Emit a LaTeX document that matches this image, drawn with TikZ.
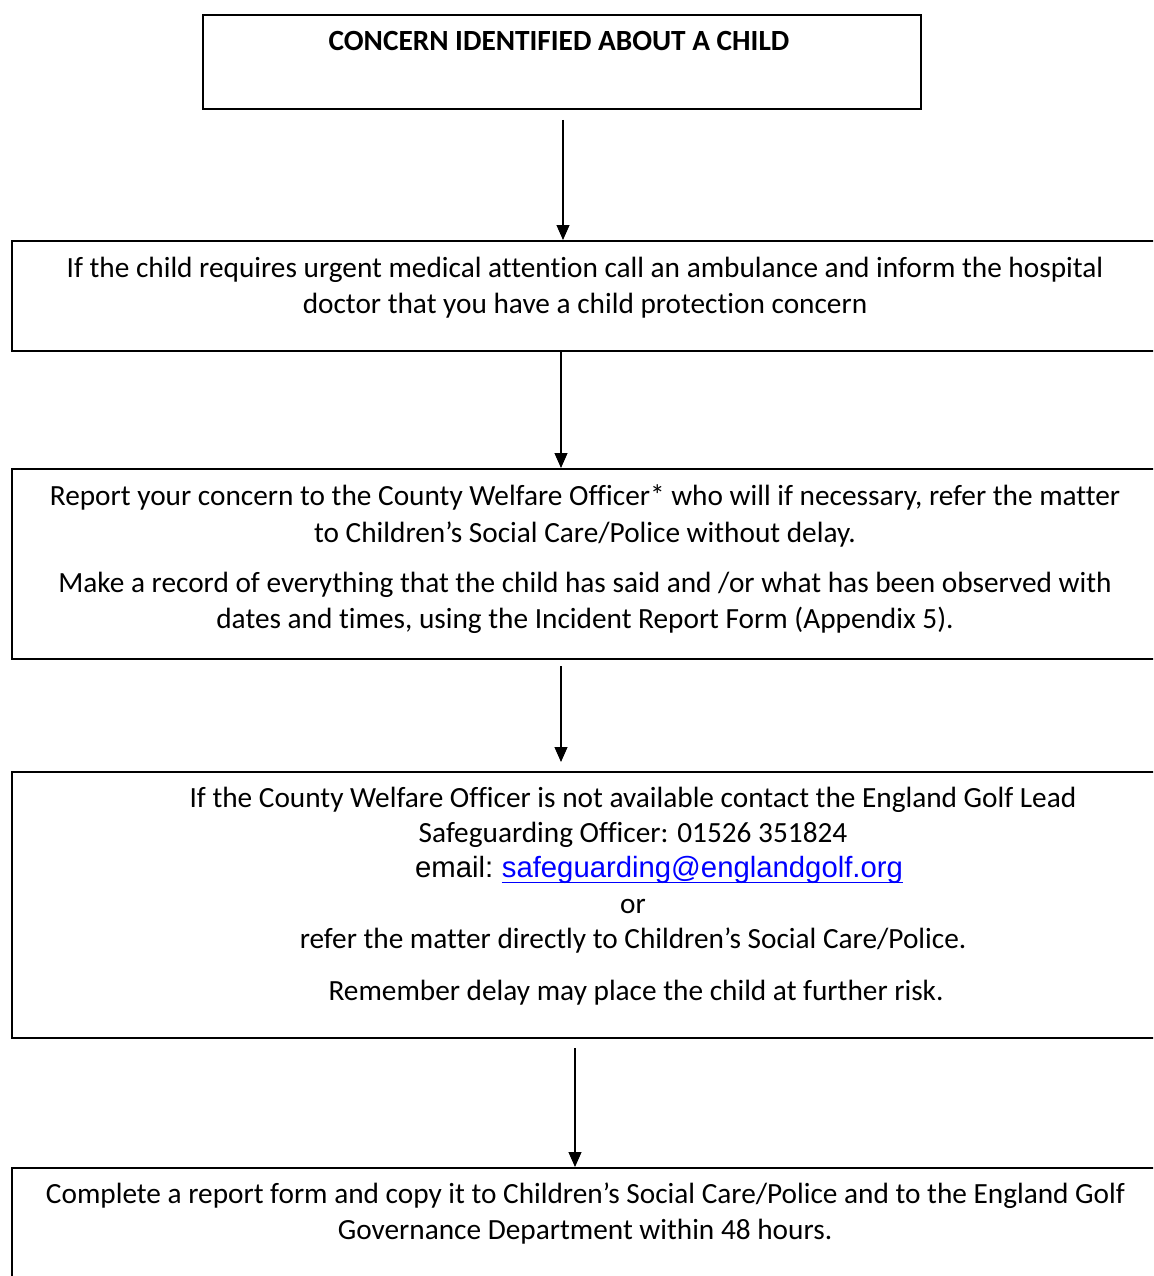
\documentclass[tikz,border=0pt]{standalone}
\usepackage{fontspec}
\setmainfont{Carlito}[Ligatures=NoCommon]
\newfontfamily\arialfont{Liberation Sans}
\usetikzlibrary{arrows.meta}
\definecolor{linkblue}{RGB}{0,0,255}
\tikzset{
  box/.style={draw=black, line width=2.2pt, anchor=north west, inner sep=0pt, fill=none},
  txt/.style={anchor=base, inner sep=0pt, font=\fontsize{29.3}{36}\selectfont},
  flow/.style={line width=1.1pt, -{Triangle[length=15pt,width=13pt]}}
}
\begin{document}
\begin{tikzpicture}[x=1pt,y=-1pt]
\clip (0,0) rectangle (1153,1276);
\fill[white] (0,0) rectangle (1153,1276);
% boxes
\node[box, minimum width=718pt, minimum height=94pt] (b1) at (202,14) {};
\node[box, minimum width=1149pt, minimum height=110pt] (b2) at (11,240) {};
\node[box, minimum width=1149pt, minimum height=190pt] (b3) at (11,468) {};
\node[box, minimum width=1149pt, minimum height=266pt] (b4) at (11,771) {};
\node[box, minimum width=1149pt, minimum height=130pt] (b5) at (11,1167) {};
% texts
\node[txt, font=\fontsize{29.3}{36}\selectfont\bfseries] (t1) at (559,51) {CONCERN IDENTIFIED ABOUT A CHILD};
\node[txt] (t2a) at (585,277) {If the child requires urgent medical attention call an ambulance and inform the hospital};
\node[txt] (t2b) at (585,313) {doctor that you have a child protection concern};
\node[txt] (t3a) at (585,505) {Report your concern to the County Welfare Officer* who will if necessary, refer the matter};
\node[txt] (t3b) at (585,542) {to Children’s Social Care/Police without delay.};
\node[txt] (t3c) at (585,592) {Make a record of everything that the child has said and /or what has been observed with};
\node[txt] (t3d) at (585,628) {dates and times, using the Incident Report Form (Appendix 5).};
\node[txt] (t4a) at (633,807) {If the County Welfare Officer is not available contact the England Golf Lead};
\node[txt] (t4b) at (633,842) {Safeguarding Officer: 01526 351824};
\node[txt, anchor=base west, font=\fontsize{29.3}{36}\arialfont] (t4c) at (415,877) {email:};
\node[txt, anchor=base west, font=\fontsize{29.3}{36}\arialfont, text=linkblue, xshift=8.1pt] (link) at (t4c.base east) {safeguarding@englandgolf.org};
\draw[linkblue, line width=1.6pt] ([yshift=-5.5pt]link.base west) -- ([yshift=-5.5pt]link.base east);
\node[txt] (t4d) at (633,913) {or};
\node[txt] (t4e) at (633,948) {refer the matter directly to Children’s Social Care/Police.};
\node[txt] (t4f) at (636,1000) {Remember delay may place the child at further risk.};
\node[txt] (t5a) at (585.5,1203) {Complete a report form and copy it to Children’s Social Care/Police and to the England Golf};
\node[txt] (t5b) at (585,1239) {Governance Department within 48 hours.};
% connector coordinates
\coordinate (s1) at (563,120);
\coordinate (e1) at (563,240);
\coordinate (s2) at (561,350);
\coordinate (e2) at (561,468);
\coordinate (s3) at (561,666);
\coordinate (e3) at (561,762);
\coordinate (s4) at (575,1048);
\coordinate (e4) at (575,1167);
\draw[flow] (s1) -- (e1);
\draw[flow] (s2) -- (e2);
\draw[flow] (s3) -- (e3);
\draw[flow] (s4) -- (e4);
\end{tikzpicture}
\end{document}
